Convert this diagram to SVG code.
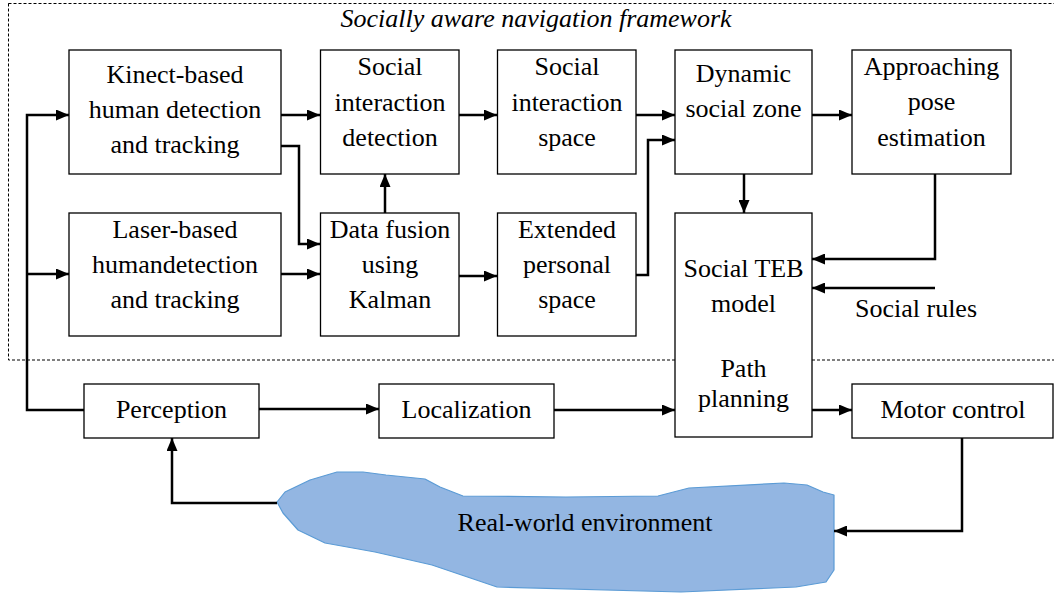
<svg xmlns="http://www.w3.org/2000/svg" width="1054" height="593" viewBox="0 0 1054 593">
<defs>
<marker id="ah" markerUnits="userSpaceOnUse" markerWidth="13" markerHeight="11" refX="13" refY="5.5" orient="auto">
<path d="M0,0 L13,5.5 L0,11 z" fill="#000"/>
</marker>
<style>
.box{fill:#fff;stroke:#000;stroke-width:1.3}
.c{fill:none;stroke:#000;stroke-width:2.5;marker-end:url(#ah)}
</style>
</defs>
<rect width="1054" height="593" fill="#fff"/>
<g id="frame">
<rect x="8.5" y="3.5" width="1060" height="356.5" fill="none" stroke="#000" stroke-width="1" stroke-dasharray="3,2"/>
<text x="536" y="27" font-family="Liberation Serif" style="font-family:Liberation Serif,serif;font-size:26px;font-style:italic" text-anchor="middle">Socially aware navigation framework</text>
</g>
<g id="environment">
<path d="M277,502 L285,492 L310,480 L337,472 L363,472 L386,475 L425,479 L440,487 L463,496 L566,497 L658,496 L689,488 L784,483 L807,485 L823,492 L834,495 L834,570 L826,582 L796,587 L681,592 L497,587 L432,565 L375,552 L325,543 L298,530 L283,513 Z" fill="#93B6E2" stroke="#5B9BD5" stroke-width="1.2" stroke-linejoin="round"/>
<text x="585" y="531" font-family="Liberation Serif" style="font-family:Liberation Serif,serif;font-size:26px" text-anchor="middle">Real-world environment</text>
</g>
<g id="connectors">
<path class="c" d="M84,410 H27 V115 H69"/>
<path class="c" d="M27,274 H69"/>
<path class="c" d="M281,115 H320"/>
<path class="c" d="M459,115 H497"/>
<path class="c" d="M281,146 H299 V244 H320"/>
<path class="c" d="M281,274 H320"/>
<path class="c" d="M385,213 V174"/>
<path class="c" d="M459,276 H497"/>
<path class="c" d="M636,115 H675"/>
<path class="c" d="M636,275 H648 V140 H675"/>
<path class="c" d="M812,115 H852"/>
<path class="c" d="M744,174 V213"/>
<path class="c" d="M935,174 V259 H812"/>
<path class="c" d="M935,288 H812"/>
<path class="c" d="M259,409 H379"/>
<path class="c" d="M554,410 H675"/>
<path class="c" d="M812,410 H852"/>
<path class="c" d="M962,438 V531 H834"/>
<path class="c" d="M277,503 H172 V438"/>
</g>
<g id="kinect">
<rect class="box" x="69" y="50" width="212" height="124"/>
<text font-family="Liberation Serif" style="font-family:Liberation Serif,serif;font-size:26px" text-anchor="middle" x="175" y="83">Kinect-based</text>
<text font-family="Liberation Serif" style="font-family:Liberation Serif,serif;font-size:26px" text-anchor="middle" x="175" y="118">human detection</text>
<text font-family="Liberation Serif" style="font-family:Liberation Serif,serif;font-size:26px" text-anchor="middle" x="175" y="153">and tracking</text>
</g>
<g id="sid">
<rect class="box" x="320.5" y="50" width="138.5" height="124"/>
<text font-family="Liberation Serif" style="font-family:Liberation Serif,serif;font-size:26px" text-anchor="middle" x="390" y="75">Social</text>
<text font-family="Liberation Serif" style="font-family:Liberation Serif,serif;font-size:26px" text-anchor="middle" x="390" y="111">interaction</text>
<text font-family="Liberation Serif" style="font-family:Liberation Serif,serif;font-size:26px" text-anchor="middle" x="390" y="146">detection</text>
</g>
<g id="sis">
<rect class="box" x="497.5" y="50" width="138.5" height="124"/>
<text font-family="Liberation Serif" style="font-family:Liberation Serif,serif;font-size:26px" text-anchor="middle" x="567" y="75">Social</text>
<text font-family="Liberation Serif" style="font-family:Liberation Serif,serif;font-size:26px" text-anchor="middle" x="567" y="111">interaction</text>
<text font-family="Liberation Serif" style="font-family:Liberation Serif,serif;font-size:26px" text-anchor="middle" x="567" y="146">space</text>
</g>
<g id="dsz">
<rect class="box" x="675" y="50" width="137" height="124"/>
<text font-family="Liberation Serif" style="font-family:Liberation Serif,serif;font-size:26px" text-anchor="middle" x="743.5" y="82">Dynamic</text>
<text font-family="Liberation Serif" style="font-family:Liberation Serif,serif;font-size:26px" text-anchor="middle" x="743.5" y="117">social zone</text>
</g>
<g id="ape">
<rect class="box" x="852" y="50" width="159" height="124"/>
<text font-family="Liberation Serif" style="font-family:Liberation Serif,serif;font-size:26px" text-anchor="middle" x="931.5" y="75">Approaching</text>
<text font-family="Liberation Serif" style="font-family:Liberation Serif,serif;font-size:26px" text-anchor="middle" x="931.5" y="110">pose</text>
<text font-family="Liberation Serif" style="font-family:Liberation Serif,serif;font-size:26px" text-anchor="middle" x="931.5" y="146">estimation</text>
</g>
<g id="laser">
<rect class="box" x="69" y="213" width="212" height="123"/>
<text font-family="Liberation Serif" style="font-family:Liberation Serif,serif;font-size:26px" text-anchor="middle" x="175" y="238">Laser-based</text>
<text font-family="Liberation Serif" style="font-family:Liberation Serif,serif;font-size:26px" text-anchor="middle" x="175" y="273">humandetection</text>
<text font-family="Liberation Serif" style="font-family:Liberation Serif,serif;font-size:26px" text-anchor="middle" x="175" y="308">and tracking</text>
</g>
<g id="fusion">
<rect class="box" x="320.5" y="213" width="138.5" height="123"/>
<text font-family="Liberation Serif" style="font-family:Liberation Serif,serif;font-size:26px" text-anchor="middle" x="390" y="238">Data fusion</text>
<text font-family="Liberation Serif" style="font-family:Liberation Serif,serif;font-size:26px" text-anchor="middle" x="390" y="273">using</text>
<text font-family="Liberation Serif" style="font-family:Liberation Serif,serif;font-size:26px" text-anchor="middle" x="390" y="308">Kalman</text>
</g>
<g id="eps">
<rect class="box" x="497.5" y="213" width="138.5" height="123"/>
<text font-family="Liberation Serif" style="font-family:Liberation Serif,serif;font-size:26px" text-anchor="middle" x="567" y="238">Extended</text>
<text font-family="Liberation Serif" style="font-family:Liberation Serif,serif;font-size:26px" text-anchor="middle" x="567" y="273">personal</text>
<text font-family="Liberation Serif" style="font-family:Liberation Serif,serif;font-size:26px" text-anchor="middle" x="567" y="308">space</text>
</g>
<g id="teb">
<rect class="box" x="675" y="213" width="137" height="224"/>
<text font-family="Liberation Serif" style="font-family:Liberation Serif,serif;font-size:26px" text-anchor="middle" x="743.5" y="277">Social TEB</text>
<text font-family="Liberation Serif" style="font-family:Liberation Serif,serif;font-size:26px" text-anchor="middle" x="743.5" y="312">model</text>
<text font-family="Liberation Serif" style="font-family:Liberation Serif,serif;font-size:26px" text-anchor="middle" x="743.5" y="377">Path</text>
<text font-family="Liberation Serif" style="font-family:Liberation Serif,serif;font-size:26px" text-anchor="middle" x="743.5" y="407">planning</text>
</g>
<g id="rules">
<text font-family="Liberation Serif" style="font-family:Liberation Serif,serif;font-size:26px" text-anchor="middle" x="916" y="317">Social rules</text>
</g>
<g id="perception">
<rect class="box" x="84" y="384" width="175" height="54"/>
<text font-family="Liberation Serif" style="font-family:Liberation Serif,serif;font-size:26px" text-anchor="middle" x="171.5" y="418">Perception</text>
</g>
<g id="localization">
<rect class="box" x="379" y="384" width="175" height="54"/>
<text font-family="Liberation Serif" style="font-family:Liberation Serif,serif;font-size:26px" text-anchor="middle" x="466.5" y="418">Localization</text>
</g>
<g id="motor">
<rect class="box" x="852" y="384" width="201" height="54"/>
<text font-family="Liberation Serif" style="font-family:Liberation Serif,serif;font-size:26px" text-anchor="middle" x="953" y="418">Motor control</text>
</g>
</svg>
